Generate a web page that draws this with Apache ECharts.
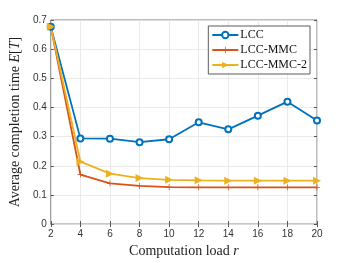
<!DOCTYPE html>
<html><head><meta charset="utf-8">
<script src="https://cdn.jsdelivr.net/npm/echarts@6/dist/echarts.min.js"></script>
<style>html,body{margin:0;padding:0;background:#fff}#c{width:350px;height:263px}</style>
</head><body><div id="c"></div>
<script>
const categories = [2, 4, 6, 8, 10, 12, 14, 16, 18, 20];
const lcc = [0.677, 0.294, 0.293, 0.281, 0.291, 0.349, 0.325, 0.372, 0.420, 0.355];
const lccMmc = [0.677, 0.170, 0.140, 0.131, 0.127, 0.126, 0.126, 0.126, 0.126, 0.126];
const lccMmc2 = [0.677, 0.214, 0.173, 0.158, 0.152, 0.150, 0.149, 0.149, 0.149, 0.149];
const yTicks = [0, 0.1, 0.2, 0.3, 0.4, 0.5, 0.6, 0.7];

const pair = arr => categories.map((x, i) => [x, arr[i]]);
const serif = '"Liberation Serif", "DejaVu Serif", serif';
const sans = '"Liberation Sans", Arial, sans-serif';
const tickStyle = {inside: true, length: 3, lineStyle: {color: '#555'}};
const chart = echarts.init(document.getElementById('c'), null, {renderer: 'canvas'});
chart.setOption({
  animation: false,
  backgroundColor: '#fff',
  grid: {left: 45, right: 33, top: 20, bottom: 34, show: true, borderColor: '#555', borderWidth: 0.8},
  legend: {
    right: 40, top: 26, orient: 'vertical', itemGap: 3, itemWidth: 26, itemHeight: 8,
    backgroundColor: '#fff', borderColor: '#333', borderWidth: 0.8, padding: [3, 3, 3, 3],
    textStyle: {fontFamily: serif, fontSize: 12, color: '#111', padding: [0, 0, 0, -3]},
    data: ['LCC', 'LCC-MMC', 'LCC-MMC-2']
  },
  xAxis: [{
    type: 'value', min: 2, max: 20, interval: 2,
    name: '{a|Computation load }{i|r}', nameLocation: 'middle', nameGap: 19,
    nameTextStyle: {rich: {a: {fontFamily: serif, fontSize: 14, color: '#222'}, i: {fontFamily: serif, fontStyle: 'italic', fontSize: 14, color: '#222'}}},
    axisLine: {show: false},
    axisTick: tickStyle,
    axisLabel: {fontFamily: sans, fontSize: 10, color: '#333', margin: 5},
    splitLine: {show: true, lineStyle: {color: '#e6e6e6', width: 0.8}}
  }, {
    type: 'value', position: 'top', min: 2, max: 20, interval: 2,
    axisLine: {show: false}, axisTick: tickStyle, axisLabel: {show: false}, splitLine: {show: false}
  }],
  yAxis: [{
    type: 'value', min: 0, max: 0.7, interval: 0.1,
    name: '{a|Average completion time }{i|E}{a|[}{i|T}{a|]}', nameLocation: 'middle', nameGap: 26,
    nameTextStyle: {rich: {a: {fontFamily: serif, fontSize: 14, color: '#222'}, i: {fontFamily: serif, fontStyle: 'italic', fontSize: 14, color: '#222'}}},
    axisLine: {show: false},
    axisTick: tickStyle,
    axisLabel: {fontFamily: sans, fontSize: 10, color: '#333', margin: 4,
      formatter: v => { const t = yTicks.find(x => Math.abs(x - v) < 1e-9); return t === 0 ? '0' : String(+t.toFixed(1)); }},
    splitLine: {show: true, lineStyle: {color: '#e6e6e6', width: 0.8}}
  }, {
    type: 'value', position: 'right', min: 0, max: 0.7, interval: 0.1,
    axisLine: {show: false}, axisTick: tickStyle, axisLabel: {show: false}, splitLine: {show: false}
  }],
  series: [
    {name: 'LCC', type: 'line', data: pair(lcc), color: '#0072BD',
     lineStyle: {width: 1.8}, symbol: 'emptyCircle', symbolSize: 6,
     itemStyle: {borderWidth: 1.5, color: '#0072BD'}},
    {name: 'LCC-MMC', type: 'line', data: pair(lccMmc), color: '#D95319',
     lineStyle: {width: 1.8}, symbol: 'path://M4.4,0h1.2v4.4h4.4v1.2h-4.4v4.4h-1.2v-4.4h-4.4v-1.2h4.4z', symbolSize: 6,
     itemStyle: {color: '#D95319'}},
    {name: 'LCC-MMC-2', type: 'line', data: pair(lccMmc2), color: '#EDB120',
     lineStyle: {width: 1.8}, symbol: 'path://M0,0L10,5L0,10Z', symbolSize: 8,
     itemStyle: {color: '#EDB120'}}
  ]
});
</script></body></html>
